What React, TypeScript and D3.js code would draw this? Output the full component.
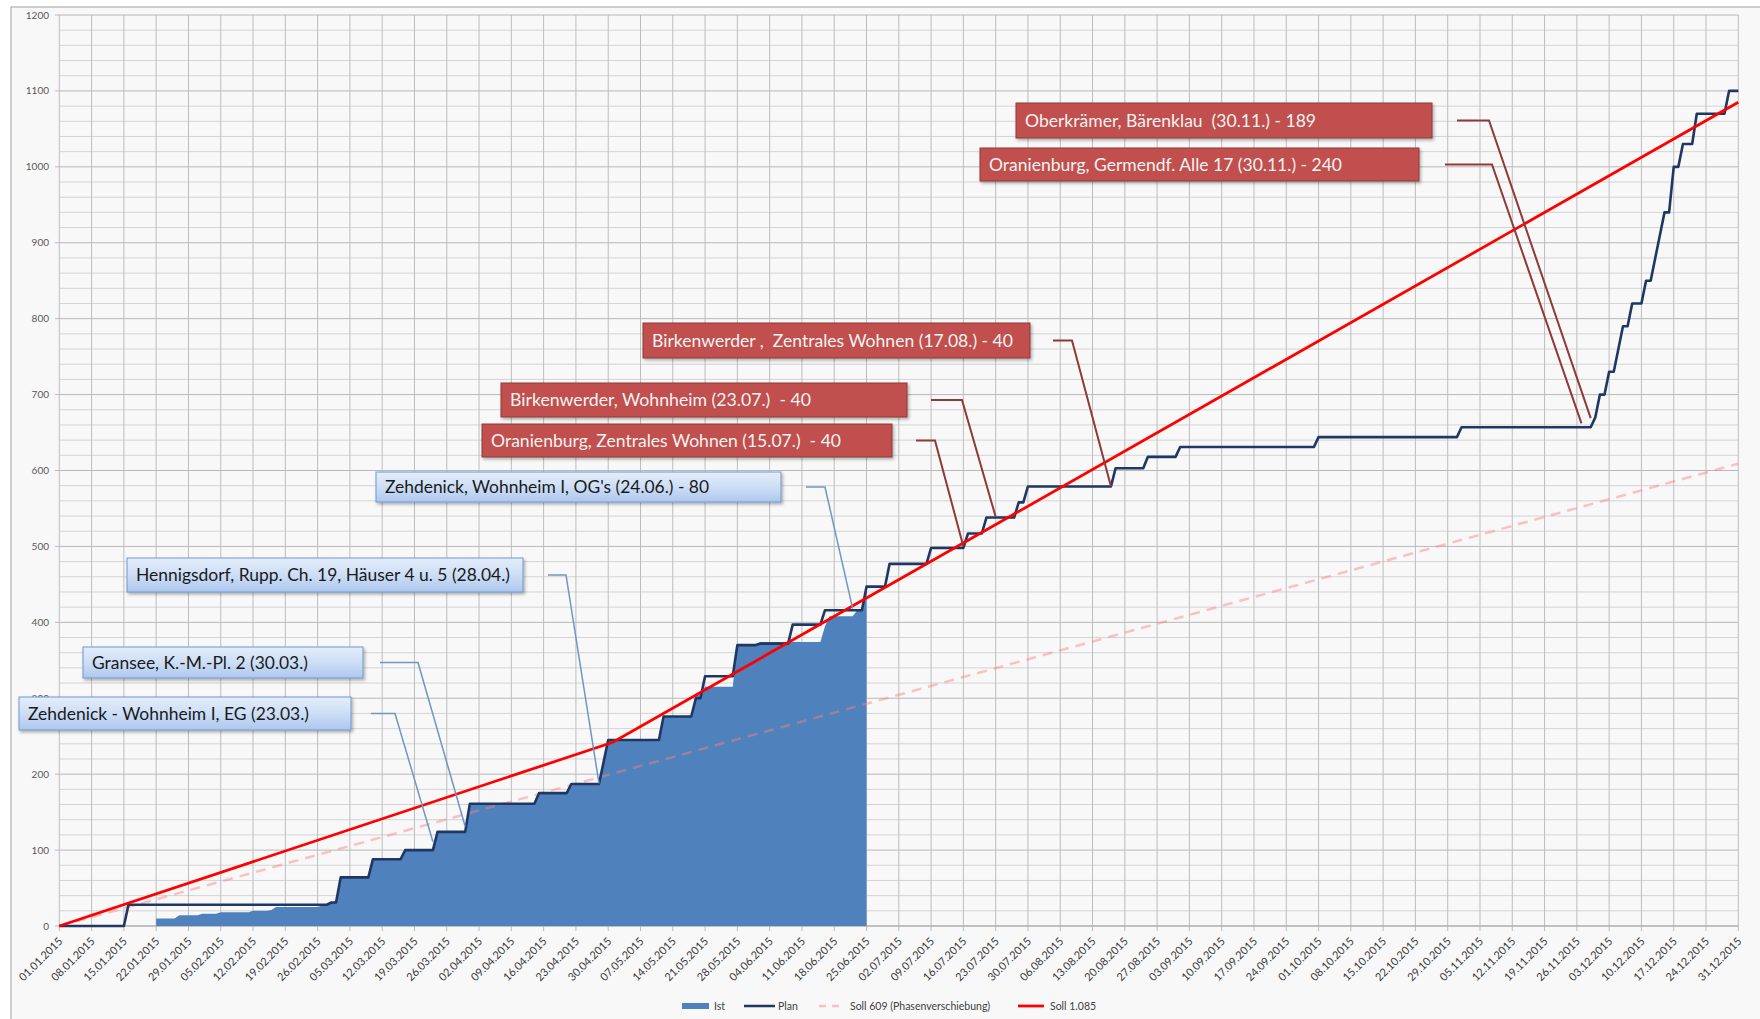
import React from 'react';
import * as d3 from 'd3';

// --- data ---
const xTickLabels = [
  '01.01', '08.01', '15.01', '22.01', '29.01', '05.02', '12.02', '19.02', '26.02',
  '05.03', '12.03', '19.03', '26.03', '02.04', '09.04', '16.04', '23.04', '30.04',
  '07.05', '14.05', '21.05', '28.05', '04.06', '11.06', '18.06', '25.06',
  '02.07', '09.07', '16.07', '23.07', '30.07', '06.08', '13.08', '20.08', '27.08',
  '03.09', '10.09', '17.09', '24.09', '01.10', '08.10', '15.10', '22.10', '29.10',
  '05.11', '12.11', '19.11', '26.11', '03.12', '10.12', '17.12', '24.12', '31.12',
];
const yTickValues = [0, 100, 200, 300, 400, 500, 600, 700, 800, 900, 1000, 1100, 1200];

// Plan: date from which the cumulative value holds
const planSteps: [string, number][] = [
  ['01.01', 0], ['16.01', 28], ['01.03', 31], ['03.03', 64], ['10.03', 88], ['17.03', 100],
  ['24.03', 124], ['31.03', 161], ['15.04', 175], ['22.04', 187], ['29.04', 216], ['30.04', 245],
  ['12.05', 276], ['19.05', 300], ['21.05', 329], ['28.05', 370], ['02.06', 372], ['09.06', 397],
  ['16.06', 416], ['25.06', 447], ['30.06', 477], ['09.07', 498], ['17.07', 517], ['21.07', 538],
  ['28.07', 558], ['30.07', 579], ['18.08', 603], ['25.08', 618], ['01.09', 631], ['01.10', 644],
  ['01.11', 657], ['30.11', 670], ['01.12', 700], ['03.12', 730], ['05.12', 760], ['06.12', 790],
  ['08.12', 820], ['11.12', 850], ['13.12', 880], ['14.12', 910], ['15.12', 940], ['17.12', 1000],
  ['19.12', 1030], ['22.12', 1070], ['29.12', 1100],
];
const planEnd = '31.12';

// Ist: actual cumulative values
const istSteps: [string, number][] = [
  ['22.01', 10], ['27.01', 14], ['01.02', 16], ['05.02', 18], ['12.02', 20], ['16.02', 21],
  ['17.02', 25], ['27.02', 27], ['01.03', 31], ['03.03', 64], ['10.03', 88], ['17.03', 100],
  ['24.03', 124], ['31.03', 161], ['15.04', 175], ['22.04', 187], ['29.04', 216], ['30.04', 245],
  ['12.05', 276], ['19.05', 304], ['21.05', 315], ['28.05', 370], ['02.06', 374], ['16.06', 395],
  ['17.06', 408], ['23.06', 416], ['25.06', 447],
];

const soll1085: [string, number][] = [['01.01', 0], ['01.05', 242], ['31.12', 1085]];
const soll609: [string, number][] = [['01.01', 0], ['31.12', 609]];

const annotations = [
  { text: 'Zehdenick - Wohnheim I, EG (23.03.)', kind: 'blue', date: '23.03', value: 111 },
  { text: 'Gransee, K.-M.-Pl. 2 (30.03.)', kind: 'blue', date: '30.03', value: 131 },
  { text: 'Hennigsdorf, Rupp. Ch. 19, Häuser 4 u. 5 (28.04.)', kind: 'blue', date: '28.04', value: 188 },
  { text: "Zehdenick, Wohnheim I, OG's (24.06.) - 80", kind: 'blue', date: '22.06', value: 418 },
  { text: 'Oranienburg, Zentrales Wohnen (15.07.)  - 40', kind: 'red', date: '16.07', value: 500 },
  { text: 'Birkenwerder, Wohnheim (23.07.)  - 40', kind: 'red', date: '23.07', value: 539 },
  { text: 'Birkenwerder ,  Zentrales Wohnen (17.08.) - 40', kind: 'red', date: '17.08', value: 579 },
  { text: 'Oranienburg, Germendf. Alle 17 (30.11.) - 240', kind: 'red', date: '27.11', value: 662 },
  { text: 'Oberkrämer, Bärenklau  (30.11.) - 189', kind: 'red', date: '29.11', value: 669 },
];

// --- layout ---
const W = 1760;
const H = 1019;
const boxLayout = [
  { x: 19, y: 697, w: 332, h: 33, gap: 20, arm: 24, tw: 281 },
  { x: 83, y: 647, w: 280, h: 31, gap: 17, arm: 38, tw: 216 },
  { x: 127, y: 558, w: 396, h: 34, gap: 25, arm: 18, tw: 374 },
  { x: 376, y: 472, w: 405, h: 30, gap: 25, arm: 19, tw: 324 },
  { x: 482, y: 424, w: 410, h: 33, gap: 24, arm: 19, tw: 350 },
  { x: 501, y: 383, w: 406, h: 34, gap: 24, arm: 31, tw: 301 },
  { x: 643, y: 323, w: 387, h: 35, gap: 23, arm: 19, tw: 361 },
  { x: 980, y: 148, w: 439, h: 33, gap: 26, arm: 47, tw: 353 },
  { x: 1016, y: 103, w: 416, h: 35, gap: 25, arm: 32, tw: 291 },
];

const parse = d3.utcParse('%d.%m.%Y');
const day = (s: string) => parse(s + '.2015') as Date;

const x = d3.scaleUtc().domain([day('01.01'), day('31.12')]).range([59.3, 1738.3]);
const y = d3.scaleLinear().domain([0, 1200]).range([926, 15]);

type Pt = [Date, number];

function stepPoints(steps: [string, number][], end?: string): Pt[] {
  const pts: Pt[] = [];
  steps.forEach(([d, v], i) => {
    const t = day(d);
    pts.push([t, v]);
    const next = steps[i + 1];
    const stop = next ? d3.utcDay.offset(day(next[0]), -1) : end ? day(end) : null;
    if (stop && stop > t) pts.push([stop, v]);
  });
  return pts;
}

const font = 'Lato, "Open Sans", sans-serif';

export default function App() {
  const planPts = stepPoints(planSteps, planEnd);
  const istPts = stepPoints(istSteps);
  const line = d3.line<Pt>().x(d => x(d[0])).y(d => y(d[1]));
  const area = d3.area<Pt>().x(d => x(d[0])).y0(y(0)).y1(d => y(d[1]));
  const sollLine = (arr: [string, number][]) => line(arr.map(([d, v]) => [day(d), v] as Pt)) || '';
  const gridY = d3.range(0, 1201, 20);

  return (
    <svg width={W} height={H} style={{ position: 'absolute', left: 0, top: 0, background: '#fff' }}
      fontFamily={font}>
      <defs>
        <linearGradient id="blueBox" x1="0" y1="0" x2="0" y2="1">
          <stop offset="0" stopColor="#e4eefb" />
          <stop offset="0.55" stopColor="#cadcf5" />
          <stop offset="1" stopColor="#adc7ee" />
        </linearGradient>
        <filter id="shadow" x="-10%" y="-30%" width="120%" height="170%">
          <feDropShadow dx="1.5" dy="2" stdDeviation="1.5" floodColor="#000" floodOpacity="0.3" />
        </filter>
      </defs>

      <rect x={11} y={7} width={W} height={H} fill="#f8f8f8" stroke="#a0a0a0" strokeWidth={1} />

      {/* grid */}
      {gridY.map(v => (
        <line key={'h' + v} x1={v % 100 === 0 ? 55 : 59.3} x2={1738.3} y1={y(v)} y2={y(v)}
          stroke={v % 100 === 0 ? '#b8b8b8' : '#d4d4d4'} strokeWidth={1} />
      ))}
      {xTickLabels.map(l => (
        <line key={'v' + l} x1={x(day(l))} x2={x(day(l))} y1={y(1200)} y2={931}
          stroke="#bdbdbd" strokeWidth={1} />
      ))}
      <line x1={59.3} x2={1738.3} y1={y(0)} y2={y(0)} stroke="#a8a8a8" strokeWidth={1} />

      {/* axis labels */}
      {yTickValues.map(v => (
        <text key={'yl' + v} x={49} y={y(v)} dy="0.35em" textAnchor="end" fontSize={10}
          fill="#595959">{v}</text>
      ))}
      {xTickLabels.map(l => (
        <text key={'xl' + l} transform={`translate(${x(day(l)) + 4},${942}) rotate(-45)`}
          textAnchor="end" fontSize={11} fill="#3a3a3a">{l}.2015</text>
      ))}

      {/* series */}
      <path d={area(istPts) || ''} fill="#4f81bd" />
      <path d={sollLine(soll609)} fill="none" stroke="#ff7f7f" strokeOpacity={0.45}
        strokeWidth={2.5} strokeDasharray="10 7" />
      <path d={line(planPts) || ''} fill="none" stroke="#1f3763" strokeWidth={2.6}
        strokeLinejoin="round" />
      <path d={sollLine(soll1085)} fill="none" stroke="#ff0000" strokeWidth={2.75} />

      {/* annotations */}
      {annotations.map((a, i) => {
        const b = boxLayout[i];
        const blue = a.kind === 'blue';
        const cy = b.y + b.h / 2;
        const sx = b.x + b.w + b.gap;
        const ex = sx + b.arm;
        return (
          <g key={'an' + i}>
            <polyline points={`${sx},${cy} ${ex},${cy} ${x(day(a.date))},${y(a.value)}`}
              fill="none" stroke={blue ? '#7096c4' : '#8e3a38'} strokeWidth={blue ? 1.5 : 2} />
            <rect x={b.x} y={b.y} width={b.w} height={b.h} filter="url(#shadow)"
              fill={blue ? 'url(#blueBox)' : '#c0504d'} stroke={blue ? '#6f98cf' : '#8c3a38'}
              strokeWidth={1} />
            <text x={b.x + 9} y={cy} dy="0.36em" fontSize={17} fill={blue ? '#1a1a1a' : '#f4f4f4'}
              textLength={b.tw} lengthAdjust="spacingAndGlyphs" style={{ whiteSpace: 'pre' }}>
              {a.text}
            </text>
          </g>
        );
      })}

      {/* legend */}
      <g fontSize={10.5} fill="#404040">
        <rect x={682} y={1003} width={27} height={6} fill="#4f81bd" />
        <text x={714} y={1006} dy="0.35em">Ist</text>
        <line x1={744} x2={775} y1={1006} y2={1006} stroke="#1f3763" strokeWidth={2.5} />
        <text x={778} y={1006} dy="0.35em">Plan</text>
        <line x1={819} x2={842} y1={1006} y2={1006} stroke="#ff7f7f" strokeOpacity={0.45}
          strokeWidth={2.5} strokeDasharray="7 6" />
        <text x={850} y={1006} dy="0.35em">Soll 609 (Phasenverschiebung)</text>
        <line x1={1018} x2={1044} y1={1006} y2={1006} stroke="#ff0000" strokeWidth={2.75} />
        <text x={1050} y={1006} dy="0.35em">Soll 1.085</text>
      </g>
    </svg>
  );
}
